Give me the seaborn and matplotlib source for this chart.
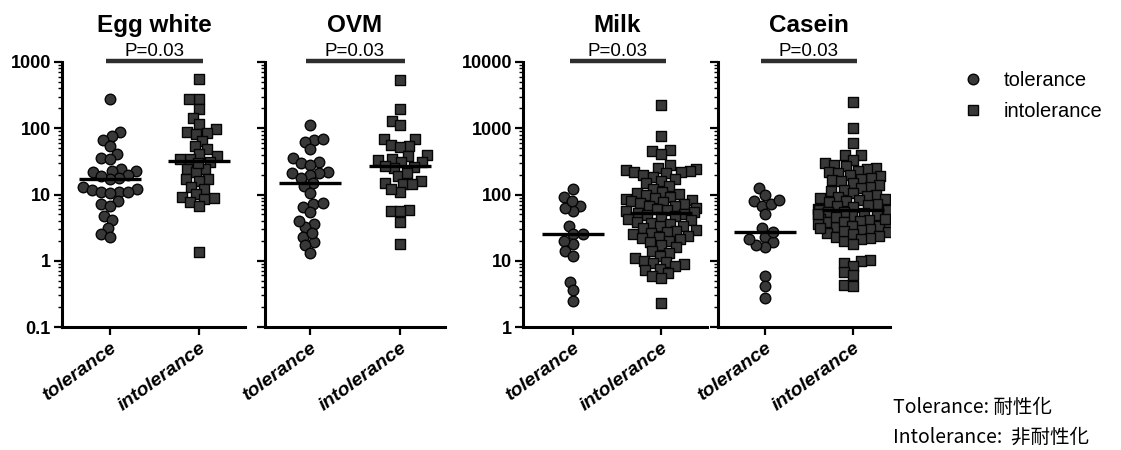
import warnings
warnings.filterwarnings("ignore")
import numpy as np
import pandas as pd
import matplotlib
matplotlib.use("Agg")
import matplotlib.pyplot as plt
import matplotlib.transforms as mtransforms
from matplotlib.lines import Line2D
from matplotlib.ticker import LogLocator, FuncFormatter, NullFormatter
import seaborn as sns

# ---------------- data ----------------
groups = ["tolerance", "intolerance"]
panel_titles = ["Egg white", "OVM", "Milk", "Casein"]
p_labels = ["P=0.03", "P=0.03", "P=0.03", "P=0.03"]

egg_tol = [272, 88, 77, 67, 54, 41, 35, 34, 24.5, 23, 23, 21.5, 20, 17.5, 17, 12.9,
           12, 11.5, 11, 11, 10.8, 10.5, 8.1, 7.2, 6.8, 4.8, 4.1, 3.1, 2.5, 2.3, 19]
egg_int = [562, 279, 279, 193, 145, 115, 97, 88, 84, 83, 65, 54, 48, 41, 38, 34, 34,
           31, 24, 24, 21.5, 17, 17, 16, 13, 12, 10.2, 9.1, 8.9, 8.7, 7.7, 6.8, 1.36, 30]
ovm_tol = [111, 67, 62, 68, 48, 36, 31, 30, 28, 22, 21, 21, 20, 15, 13.6, 10.6, 7.2,
           6.5, 7.5, 5.4, 3.6, 3.2, 4, 1.9, 2.3, 2.6, 1.7, 1.3, 18]
ovm_int = [543, 193, 129, 111, 68, 68, 54, 55, 52, 38, 40, 34, 31, 31, 25, 26, 33, 19,
           21, 14.5, 15, 16, 14.5, 10.8, 12, 5.8, 5.6, 3.8, 5.6, 1.76, 27]
milk_tol = [119, 92, 68, 56, 63, 79, 33, 25, 25, 18, 20, 14, 12, 4.8, 3.6, 2.5]
milk_int = [2240, 767, 462, 455, 410, 275, 248, 240, 236, 228, 222, 215, 210, 198, 185,
            172, 160, 148, 135, 122, 110, 104, 101, 97, 93, 90, 86, 83, 80, 77, 74, 71,
            68, 66, 63, 60, 58, 56, 55, 53, 51, 49, 47, 45, 43, 41, 39, 37, 36, 34, 33,
            31, 29, 28, 27, 26, 25, 24, 23, 22, 21, 20, 19, 17, 16, 14, 13, 12, 11, 10,
            9.6, 9.2, 8.8, 8.3, 7.6, 7.2, 6.6, 5.8, 5.4, 2.3]
casein_tol = [124, 97, 81, 67, 73, 84, 50, 31, 23, 19, 16, 17, 21, 5.8, 4.2, 2.7, 27]
casein_int = [2480, 1020, 596, 394, 390, 330, 300, 280, 265, 250, 240, 230, 220, 210,
              200, 190, 180, 172, 165, 158, 150, 140, 132, 125, 118, 112, 105, 100, 96,
              92, 88, 85, 82, 79, 76, 73, 70, 67, 64, 61, 59, 57, 55, 53, 51, 49, 47, 45,
              43, 41, 40, 38, 36, 35, 33, 32, 30, 29, 27, 26, 24, 23, 22, 20, 58, 54, 50,
              46, 42, 39, 34, 31, 28, 25, 21, 18, 10.2, 9.8, 9.4, 8.4, 6.7, 6.0, 4.3, 4.1]

panel_data = [(egg_tol, egg_int), (ovm_tol, ovm_int),
              (milk_tol, milk_int), (casein_tol, casein_int)]
y_ranges = [(0.1, 1000), (0.1, 1000), (1, 10000), (1, 10000)]

# ---------------- style / layout ----------------
sns.set_theme(style="white")
plt.rcParams["font.family"] = ["Liberation Sans", "Noto Sans CJK JP", "DejaVu Sans"]
for k in ["text.color", "axes.labelcolor", "xtick.color", "ytick.color", "axes.edgecolor"]:
    plt.rcParams[k] = "black"

W, H = 1121, 450
fig = plt.figure(figsize=(W / 100, H / 100), dpi=100)

ax_px = [(62, 245, -0.54, 1.52), (265, 445, -0.50, 1.50),
         (523, 707, -0.57, 1.52), (718, 890, -0.53, 1.42)]
top_px, bot_px = 62, 327
show_ylabels = [True, False, True, False]

face = "#383838"
edge = "#050505"
circle_size, square_size = 7.6, 7.0
pack_size = 5.4   # tighter packing (GraphPad-style overlap)

swarm_colls = []


def swarm(ax, sub, marker, disp_size):
    n0 = len(ax.collections)
    sns.swarmplot(data=sub, x="group", y="value", order=groups, marker=marker,
                  size=pack_size, color=face, edgecolor=edge, linewidth=1.0,
                  log_scale=True, ax=ax)
    for coll in ax.collections[n0:]:
        swarm_colls.append((coll, disp_size))


for i, (title, (tol, intol), (ylo, yhi)) in enumerate(zip(panel_titles, panel_data, y_ranges)):
    x0, x1, xl, xr = ax_px[i]
    ax = fig.add_axes([x0 / W, 1 - bot_px / H, (x1 - x0) / W, (bot_px - top_px) / H])
    df = pd.DataFrame({
        "group": ["tolerance"] * len(tol) + ["intolerance"] * len(intol),
        "value": list(tol) + list(intol),
    })
    ax.set_yscale("log")
    ax.set_ylim(ylo, yhi)
    swarm(ax, df[df.group == "tolerance"], "o", circle_size)
    swarm(ax, df[df.group == "intolerance"], "s", square_size)
    sns.pointplot(data=df, x="group", y="value", order=groups, estimator="median",
                  errorbar=None, markers="_", linestyles="none", color="black",
                  markersize=44, markeredgewidth=2.4, log_scale=True, ax=ax, zorder=5)

    ax.set_yscale("log")
    ax.set_ylim(ylo, yhi)
    ax.set_xlim(xl, xr)
    ax.set_xlabel("")
    ax.set_ylabel("")
    for s in ["top", "right"]:
        ax.spines[s].set_visible(False)
    for s in ["left", "bottom"]:
        ax.spines[s].set_linewidth(2.2)
        ax.spines[s].set_color("black")

    ax.yaxis.set_major_locator(LogLocator(base=10, numticks=10))
    ax.yaxis.set_minor_locator(LogLocator(base=10, subs=np.arange(2, 10), numticks=20))
    ax.yaxis.set_major_formatter(FuncFormatter(lambda v, p: f"{v:g}"))
    ax.yaxis.set_minor_formatter(NullFormatter())
    ax.tick_params(axis="y", which="major", left=True, length=6, width=1.6, color="black",
                   labelsize=13, labelleft=show_ylabels[i], pad=2)
    ax.tick_params(axis="y", which="minor", left=True, length=3, width=1.0, color="black")
    for lab in ax.get_yticklabels():
        lab.set_fontweight("bold")
    ax.tick_params(axis="x", which="major", bottom=True, length=6, width=1.6, color="black",
                   labelsize=14, pad=3)
    ax.set_xticks([0, 1])
    ax.set_xticklabels(groups, rotation=36, ha="right", rotation_mode="anchor",
                       fontweight="bold", fontstyle="italic")

    trans = mtransforms.blended_transform_factory(ax.transData, ax.transAxes)
    ax.plot([-0.04, 1.05], [1.003, 1.003], transform=trans, color="#2e2e2e", lw=3.2,
            clip_on=False, solid_capstyle="butt")
    ax.text(0.5, 1 + 6 / 265, p_labels[i], transform=trans, ha="center", va="baseline",
            fontsize=13.5)
    ax.text(0.5, 1 + 30 / 265, title, transform=trans, ha="center", va="baseline",
            fontsize=17.5, fontweight="bold")

# lay out the swarms with the tight packing size, then freeze and enlarge markers
fig.canvas.draw()
for coll, disp_size in swarm_colls:
    if "draw" in coll.__dict__:
        del coll.__dict__["draw"]
    coll.set_sizes([disp_size ** 2])

handles = [Line2D([], [], marker="o", linestyle="none", markersize=circle_size,
                  markerfacecolor=face, markeredgecolor=edge, markeredgewidth=1.0),
           Line2D([], [], marker="s", linestyle="none", markersize=square_size,
                  markerfacecolor=face, markeredgecolor=edge, markeredgewidth=1.0)]
fig.legend(handles, groups, loc="upper left", bbox_to_anchor=(963 / W, 1 - 71 / H),
           frameon=False, fontsize=14.5, handlelength=1.0, handletextpad=1.0,
           borderpad=0, borderaxespad=0, labelspacing=0.62)

fig.text(893 / W, 1 - 407 / H, "Tolerance: 耐性化", ha="left", va="center",
         fontsize=14, family=["Noto Sans CJK JP", "DejaVu Sans"])
fig.text(893 / W, 1 - 437 / H, "Intolerance:  非耐性化", ha="left", va="center",
         fontsize=14, family=["Noto Sans CJK JP", "DejaVu Sans"])

fig.savefig("out.png", dpi=100)
